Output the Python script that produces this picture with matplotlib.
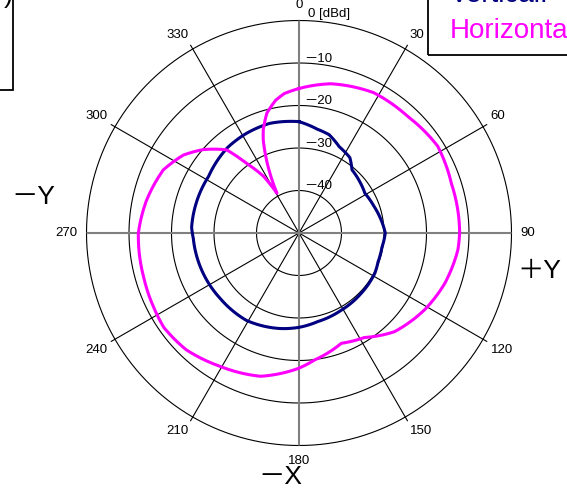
import numpy as np
import matplotlib.pyplot as plt
from matplotlib.patches import Rectangle

# measured pattern, angle in degrees (clockwise from +X), level in dBd
angles_v = [0, 10, 17, 25, 34, 40, 50, 59, 70, 79, 90, 100, 110, 118, 135, 151, 168,
            180, 191, 211, 230, 249, 267, 273, 285, 302, 320, 332, 345, 360]
vertical_db = [-23.8, -25.2, -25.8, -27.6, -28.6, -30.6, -31.3, -31.9, -31.3, -30.6, -29.7,
               -30.2, -30.2, -29.8, -29.6, -29.3, -28.7, -27.8, -27.1, -26.0, -25.9, -25.5,
               -25.1, -24.7, -24.8, -24.9, -23.8, -23.5, -23.3, -23.8]

angles_h = [0, 12, 28, 43, 58, 72, 90, 96, 109, 121, 136, 148, 159, 173, 180, 195, 211,
            224, 235, 243, 254, 270, 282, 295, 304, 311, 319, 323, 328, 331, 336, 339,
            341, 345, 350, 354, 360]
horizontal_db = [-16.0, -14.1, -12.6, -12.5, -11.5, -12.3, -12.2, -12.4, -13.7, -15.3, -17.7,
                 -21.0, -22.2, -19.9, -18.2, -15.1, -13.5, -11.8, -11.2, -11.6, -12.0, -12.2,
                 -13.3, -14.8, -17.2, -20.1, -24.1, -29.5, -34.3, -39.3, -31.2, -26.5, -24.2,
                 -20.8, -18.3, -17.0, -16.0]

ring_levels = [-40, -30, -20, -10]
ring_labels = ['－40', '－30', '－20', '－10']
spoke_angles = [30, 60, 120, 150, 210, 240, 300, 330]
axis_angles = [0, 90, 180, 270]
tick_angles = list(range(0, 360, 30))

W, H = 567, 488
cx, cy, R = 299, 233, 212.5
NAVY = '#000080'
MAGENTA = '#FF00FF'
FONT = ['Liberation Sans', 'Noto Sans CJK JP']


def fx(px):
    return px / W


def fy(py):
    return 1 - py / H


fig = plt.figure(figsize=(W / 100, H / 100), dpi=100)
ax = fig.add_axes([(cx - R) / W, 1 - (cy + R) / H, 2 * R / W, 2 * R / H], projection='polar')
ax.set_theta_zero_location('N')
ax.set_theta_direction(-1)
ax.set_ylim(-50, 0)
ax.set_xticks([])
ax.set_yticks([])
ax.grid(False)
ax.spines['polar'].set_visible(False)

# rings
circle = np.linspace(0, 2 * np.pi, 361)
for lv in ring_levels + [0]:
    ax.plot(circle, np.full_like(circle, lv), color='black', lw=0.8, clip_on=False)

# spokes, a little past the outer ring
for a in spoke_angles:
    t = np.radians(a)
    ax.plot([t, t], [-50, 1.0], color='black', lw=0.8, clip_on=False)
for a in axis_angles:
    t = np.radians(a)
    ax.plot([t, t], [-50, 0], color='#808080', lw=1.5)

# patterns; segments follow the polar grid instead of straight chords
for ang, db, col in [(angles_v, vertical_db, NAVY), (angles_h, horizontal_db, MAGENTA)]:
    line, = ax.plot(np.radians(ang), db, color=col, lw=2.2, solid_joinstyle='round')
    line.get_path()._interpolation_steps = 16

# level labels along the 0 deg axis
for lv, lab in zip(ring_levels, ring_labels):
    ax.annotate(lab, xy=(0, lv), xytext=(5, 4), textcoords='offset pixels',
                ha='left', va='center', fontsize=9.5, family=FONT)
ax.annotate('0 [dBd]', xy=(0, 0), xytext=(9, 6), textcoords='offset pixels',
            ha='left', va='center', fontsize=9.5, family=FONT, annotation_clip=False)

# angle labels
for a in tick_angles:
    t = np.radians(a)
    s, c = np.sin(t), np.cos(t)
    ha = 'left' if s > 0.1 else ('right' if s < -0.1 else 'center')
    va = 'bottom' if c > 0.1 else ('top' if c < -0.1 else 'center')
    ax.annotate(str(a), xy=(t, 0), xytext=(9 * s, 9 * c), textcoords='offset pixels',
                ha=ha, va=va, fontsize=9.5, family=FONT, annotation_clip=False)

# direction names
fig.text(fx(11), fy(197.5), '－Y', ha='left', va='center', fontsize=19, family=FONT)
fig.text(fx(517), fy(271), '＋Y', ha='left', va='center', fontsize=19, family=FONT)
fig.text(fx(258), fy(477), '－X', ha='left', va='center', fontsize=19, family=FONT)

# legend boxes
fig.add_artist(Rectangle((fx(428), fy(55)), 0.5, 0.5, transform=fig.transFigure,
                         fill=False, edgecolor='black', lw=1.3, clip_on=False))
fig.text(fx(450), fy(2), 'Vertical:', color=NAVY, ha='left', va='baseline',
         fontsize=20, family=FONT)
fig.text(fx(450), fy(37.7), 'Horizontal', color=MAGENTA, ha='left', va='baseline',
         fontsize=20, family=FONT)

fig.add_artist(Rectangle((-0.5, fy(90)), 0.5 + fx(13.3), 0.5, transform=fig.transFigure,
                         fill=False, edgecolor='black', lw=1.3, clip_on=False))
fig.text(fx(12.5), fy(8), ')', ha='right', va='bottom', fontsize=19, family=FONT)

fig.savefig('out.png', dpi=100)
